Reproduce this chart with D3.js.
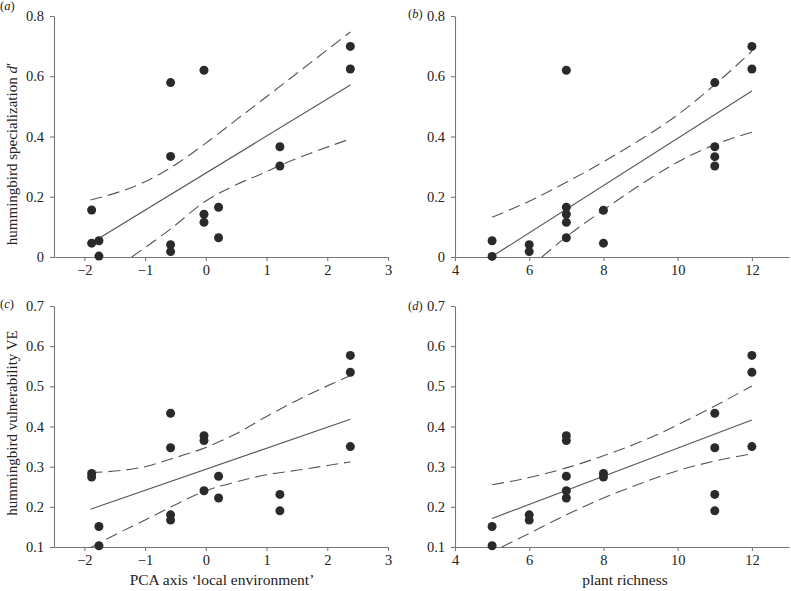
<!DOCTYPE html>
<html><head><meta charset="utf-8">
<script src="https://cdn.jsdelivr.net/npm/d3@7"></script>
<style>
body{margin:0;background:#fff;}
svg{display:block;font-family:"Liberation Serif","DejaVu Serif",serif;}
</style></head>
<body><svg id="c" width="791" height="591"></svg>
<script>
// ---- data ----
const pcaA   = [-1.88,-1.88,-1.76,-1.76,-0.58,-0.58,-0.58,-0.58,-0.03,-0.03,-0.03,0.21,0.21,1.22,1.22,2.38,2.38];
const dprimeA= [0.156,0.046,0.054,0.003,0.579,0.334,0.041,0.018,0.620,0.142,0.115,0.165,0.064,0.366,0.302,0.699,0.624];
const richB  = [5,5,6,6,7,7,7,7,7,8,8,11,11,11,11,12,12];
const dprimeB= [0.054,0.002,0.041,0.018,0.620,0.165,0.142,0.115,0.064,0.155,0.046,0.579,0.366,0.333,0.302,0.699,0.624];
const pcaC   = [-1.88,-1.88,-1.76,-1.76,-0.58,-0.58,-0.58,-0.58,-0.03,-0.03,-0.03,0.21,0.21,1.22,1.22,2.38,2.38,2.38];
const veC    = [0.283,0.274,0.151,0.103,0.433,0.347,0.180,0.167,0.377,0.365,0.240,0.276,0.222,0.231,0.190,0.577,0.535,0.350];
const richD  = [5,5,6,6,7,7,7,7,7,8,8,11,11,11,11,12,12,12];
const veD    = [0.151,0.103,0.180,0.167,0.377,0.365,0.276,0.240,0.222,0.283,0.274,0.433,0.347,0.231,0.190,0.577,0.535,0.350];

// fitted lines and confidence bands: [x, y]
const fitA   = [[-1.9,0.045],[2.38,0.571]];
const upA    = [[-1.9,0.189],[-1,0.25],[-0.6,0.294],[0,0.378],[0.5,0.455],[1,0.532],[1.5,0.61],[2.38,0.747]];
const loA    = [[-1.22,0.0],[-0.6,0.09],[0,0.186],[0.5,0.24],[1,0.283],[1.2,0.302],[1.8,0.35],[2.38,0.392]];
const fitB   = [[5,0.002],[12,0.551]];
const upB    = [[5,0.132],[6,0.185],[7,0.248],[8,0.316],[9,0.39],[10,0.472],[11,0.572],[12,0.683]];
const loB    = [[6.34,0.0],[7,0.067],[8,0.156],[9,0.24],[10,0.315],[11,0.373],[12,0.414]];
const fitC   = [[-1.9,0.194],[2.38,0.418]];
const upC    = [[-1.9,0.285],[-1,0.300],[-0.6,0.318],[0,0.348],[0.5,0.382],[1,0.425],[1.5,0.465],[2.38,0.527]];
const loC    = [[-1.9,0.098],[-1.5,0.13],[-1,0.167],[-0.6,0.198],[0,0.24],[0.5,0.262],[1,0.28],[1.5,0.291],[2.38,0.312]];
const fitD   = [[5,0.171],[12,0.416]];
const upD    = [[5,0.255],[6,0.273],[7,0.297],[8,0.327],[9,0.362],[10,0.404],[11,0.451],[12,0.501]];
const loD    = [[5.26,0.1],[6,0.134],[7,0.18],[8,0.222],[9,0.258],[10,0.29],[11,0.314],[12,0.332]];

const ticksPCA  = [-2,-1,0,1,2,3];
const ticksRich = [4,6,8,10,12];
const ticksTop  = [0,0.2,0.4,0.6,0.8];
const ticksBot  = [0.1,0.2,0.3,0.4,0.5,0.6,0.7];

const svg = d3.select("#c");

function panel(o){
  const x = d3.scaleLinear().domain(o.xd).range(o.xr);
  const y = d3.scaleLinear().domain(o.yd).range(o.yr);
  const g = svg.append("g");
  const fmtY = d => d===0 ? "0" : d3.format(".1f")(d);
  const ax = g.append("g").attr("transform",`translate(0,${o.yr[0]})`)
    .call(d3.axisBottom(x).tickValues(o.xt).tickFormat(d3.format("d")).tickSize(4).tickSizeOuter(0).tickPadding(4));
  const ay = g.append("g").attr("transform",`translate(${o.xr[0]},0)`)
    .call(d3.axisLeft(y).tickValues(o.yt).tickFormat(fmtY).tickSize(4).tickSizeOuter(0).tickPadding(6));
  [ax,ay].forEach(a=>{
    a.selectAll("path,line").attr("stroke","#777").attr("stroke-width",1.1);
    a.selectAll("text").attr("fill","#222").style("font-size","14.5px").style("font-family","'Liberation Serif',serif");
  });
  const line = d3.line().x(d=>x(d[0])).y(d=>y(d[1])).curve(d3.curveMonotoneX);
  g.append("path").attr("d",line(o.fit)).attr("fill","none").attr("stroke","#555").attr("stroke-width",1.1);
  [o.up,o.lo].forEach(c=>g.append("path").attr("d",line(c)).attr("fill","none")
     .attr("stroke","#555").attr("stroke-width",1.1).attr("stroke-dasharray","12,6"));
  g.selectAll("circle.p").data(o.px.map((v,i)=>[v,o.py[i]])).enter().append("circle")
    .attr("cx",d=>x(d[0])).attr("cy",d=>y(d[1])).attr("r",4.5).attr("fill","#2a2a2a");
  g.append("text").attr("x",o.lab[0]).attr("y",o.lab[1]).style("font-size","12.5px").attr("fill","#222")
    .html(`(<tspan font-style="italic">${o.letter}</tspan>)`);
}

panel({xd:[-2.5,3],xr:[54,388],yd:[0,0.8],yr:[257,16],xt:ticksPCA,yt:ticksTop,
  px:pcaA,py:dprimeA,fit:fitA,up:upA,lo:loA,letter:"a",lab:[0,9.5]});
panel({xd:[4,13],xr:[455,789],yd:[0,0.8],yr:[257,16],xt:ticksRich,yt:ticksTop,
  px:richB,py:dprimeB,fit:fitB,up:upB,lo:loB,letter:"b",lab:[408,18]});
panel({xd:[-2.5,3],xr:[54,388],yd:[0.1,0.7],yr:[547,306],xt:ticksPCA,yt:ticksBot,
  px:pcaC,py:veC,fit:fitC,up:upC,lo:loC,letter:"c",lab:[0,308]});
panel({xd:[4,13],xr:[455,789],yd:[0.1,0.7],yr:[547,306],xt:ticksRich,yt:ticksBot,
  px:richD,py:veD,fit:fitD,up:upD,lo:loD,letter:"d",lab:[408,310]});

// axis titles
svg.append("text").attr("transform","translate(17,154) rotate(-90)").attr("text-anchor","middle")
  .style("font-size","15px").attr("fill","#222")
  .html('hummingbird specialization <tspan font-style="italic">d</tspan>′');
svg.append("text").attr("transform","translate(17,423) rotate(-90)").attr("text-anchor","middle")
  .style("font-size","15px").attr("fill","#222").text("hummingbird vulnerability VE");
svg.append("text").attr("x",222).attr("y",585).attr("text-anchor","middle")
  .style("font-size","15.5px").attr("fill","#222").text("PCA axis ‘local environment’");
svg.append("text").attr("x",625).attr("y",585).attr("text-anchor","middle")
  .style("font-size","15.5px").attr("fill","#222").text("plant richness");
</script></body></html>
